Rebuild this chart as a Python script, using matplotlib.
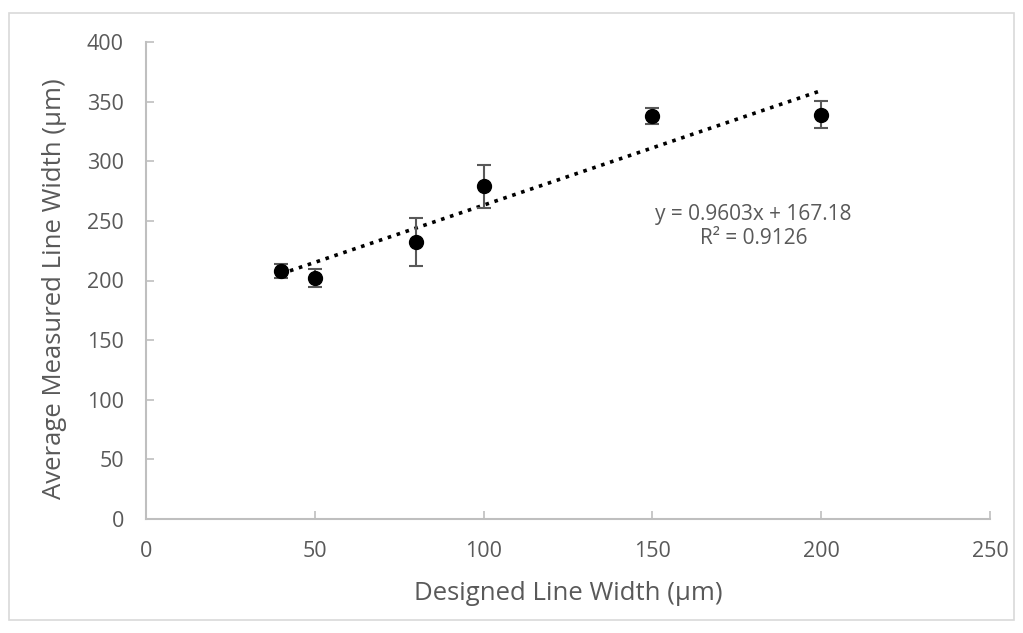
import matplotlib
matplotlib.use("Agg")
import matplotlib.pyplot as plt
import numpy as np
from matplotlib.patches import Rectangle

designed = [40, 50, 80, 100, 150, 200]
measured = [208, 202, 232, 279, 338, 339]
errors = [6, 7.5, 20, 18, 7, 11.5]
slope = 0.9603
intercept = 167.18
r2 = 0.9126
xticks = [0, 50, 100, 150, 200, 250]
yticks = [0, 50, 100, 150, 200, 250, 300, 350, 400]

plt.rcParams['font.family'] = ['Open Sans', 'DejaVu Sans']
txt = '#595959'
axc = '#bfbfbf'

fig = plt.figure(figsize=(10.23, 6.33), dpi=100)
ax = fig.add_axes([146/1023, 1-519/633, (990-146)/1023, (519-42)/633])

fig.patches.append(Rectangle((9/1023, 1-620/633), (1014-9)/1023, (620-13)/633,
                             transform=fig.transFigure, fill=False, edgecolor='#d9d9d9', lw=1.2))

ax.errorbar(designed, measured, yerr=errors, fmt='o', color='black', markersize=10,
            ecolor='#595959', elinewidth=1.5, capsize=5, capthick=1.5, zorder=3)

xs = np.array([min(designed), max(designed)])
ax.plot(xs, slope * xs + intercept, linestyle=(0, (1, 1.6)), color='black', lw=2.6, zorder=2)

ax.text(180, 245.5, f'y = {slope}x + {intercept}\nR² = {r2}', ha='center', va='center',
        fontsize=15, color=txt, linespacing=1.2)

ax.set_xlim(0, 250)
ax.set_ylim(0, 400)
ax.set_xticks(xticks)
ax.set_yticks(yticks)
ax.tick_params(direction='in', length=6, width=1.2, color=axc, labelsize=15.5, labelcolor=txt, pad=16)
for s in ['top', 'right']:
    ax.spines[s].set_visible(False)
for s in ['left', 'bottom']:
    ax.spines[s].set_color(axc)
    ax.spines[s].set_linewidth(1.5)

fig.text(568/1023, 1-594/633, 'Designed Line Width (µm)', fontsize=18.5, color=txt,
         ha='center', va='center')
fig.text(55/1023, 1-289/633, 'Average Measured Line Width (µm)', fontsize=18.5, color=txt,
         ha='center', va='center', rotation=90)

fig.savefig('out.png', dpi=100)
